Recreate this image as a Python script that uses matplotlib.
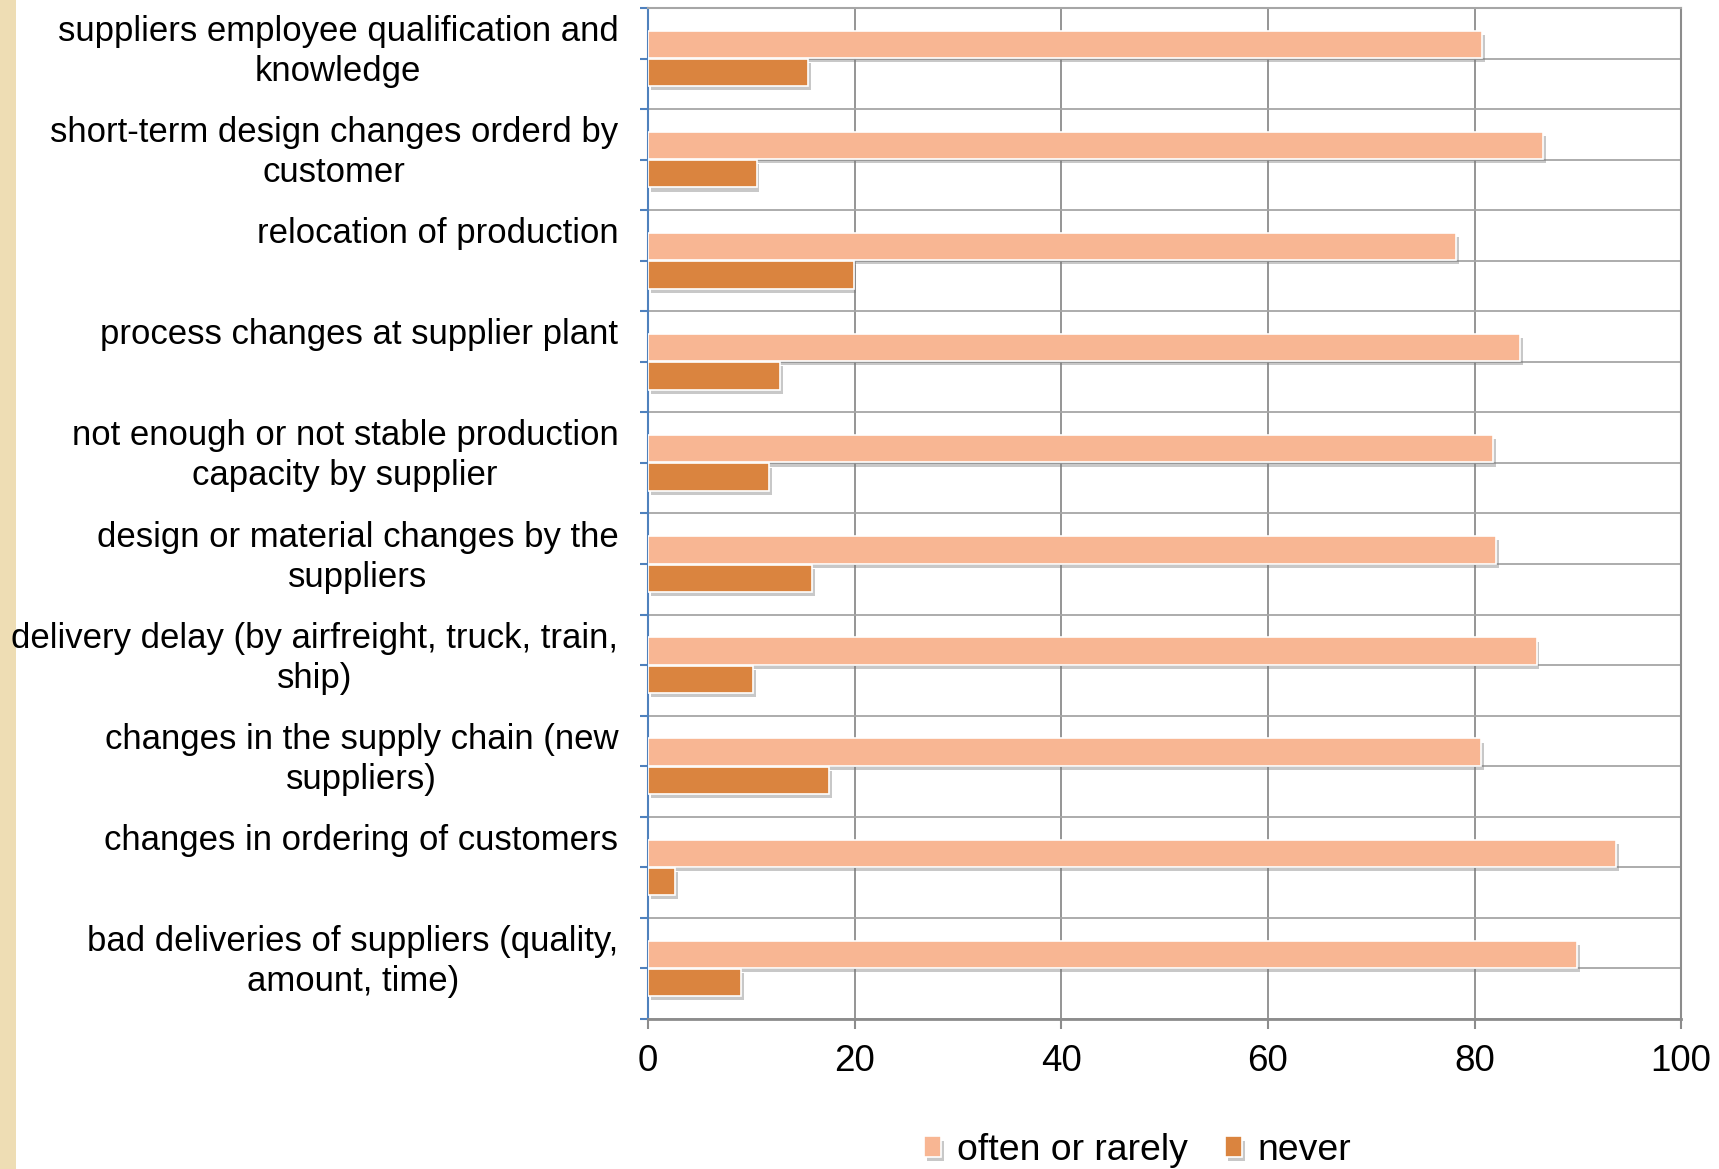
import numpy as np
import matplotlib.pyplot as plt
import matplotlib.patheffects as pe
from matplotlib.patches import Rectangle

plt.rcParams['font.family'] = ['Liberation Sans', 'DejaVu Sans']

# data (top to bottom)
categories = [
    "suppliers employee qualification and\nknowledge",
    "short-term design changes orderd by\ncustomer",
    "relocation of production",
    "process changes at supplier plant",
    "not enough or not stable production\ncapacity by supplier",
    "design or material changes by the\nsuppliers",
    "delivery delay (by airfreight, truck, train,\nship)",
    "changes in the supply chain (new\nsuppliers)",
    "changes in ordering of customers",
    "bad deliveries of suppliers (quality,\namount, time)",
]
often_or_rarely = [80.7, 86.6, 78.2, 84.4, 81.8, 82.1, 86.0, 80.6, 93.7, 89.9]
never = [15.5, 10.5, 19.9, 12.8, 11.7, 15.9, 10.2, 17.5, 2.6, 9.0]
xticks = [0, 20, 40, 60, 80, 100]

light = '#F8B693'
dark = '#DA843F'
grid_c = '#A6A6A6'

fig = plt.figure(figsize=(17.19, 11.69), dpi=100)
ax = fig.add_axes([0.377, 0.1283, 0.601, 0.8649])

# decorative beige strip on the left edge
fig.patches.append(Rectangle((0, 0), 16 / 1719, 1, transform=fig.transFigure,
                             facecolor='#EEDDB4', edgecolor='none', zorder=-1))

y = np.arange(len(categories))
h = 0.27
shadow = [pe.SimplePatchShadow(offset=(2, -3), shadow_rgbFace='#777777', alpha=0.4), pe.Normal()]
b1 = ax.barh(y - 0.14, often_or_rarely, height=h, color=light, edgecolor='white',
             linewidth=1.2, label='often or rarely', zorder=3)
b2 = ax.barh(y + 0.14, never, height=h, color=dark, edgecolor='white',
             linewidth=1.2, label='never', zorder=3)
for bar in list(b1) + list(b2):
    bar.set_path_effects(shadow)

ax.set_xlim(0, 100)
ax.set_ylim(len(categories) - 0.5, -0.5)

# labels sit near the top of each band; tick marks come from the minor ticks
ax.set_yticks(y - 0.43)
ax.set_yticklabels(categories, fontsize=25, linespacing=1.27)
for lbl in ax.get_yticklabels():
    lbl.set_va('top')
    lbl.set_multialignment('center')
ax.set_yticks(np.arange(-0.5, len(categories), 0.5), minor=True)
ax.tick_params(axis='y', which='major', length=0, pad=21.4)
ax.tick_params(axis='y', which='minor', direction='out', length=6, width=1.5,
               color='#4F81BD')

ax.set_xticks(xticks)
ax.set_xticklabels([str(v) for v in xticks], fontsize=26.5)
ax.tick_params(axis='x', direction='out', length=7, width=1.5, color='#8C8C8C', pad=11)

ax.grid(True, axis='x', color='#8C8C8C', linewidth=1.3, zorder=0)
ax.grid(True, axis='y', which='minor', color=grid_c, linewidth=1.3, zorder=0)
ax.set_axisbelow(True)

ax.spines['left'].set_color('#4F81BD')
ax.spines['left'].set_linewidth(1.5)
ax.spines['bottom'].set_color('#8C8C8C')
ax.spines['bottom'].set_linewidth(2)
ax.spines['right'].set_color('#8C8C8C')
ax.spines['right'].set_linewidth(1.5)
ax.spines['top'].set_color(grid_c)
ax.spines['top'].set_linewidth(1.5)

fig.legend(handles=[b1, b2], labels=['often or rarely', 'never'], loc='center',
           bbox_to_anchor=(0.6618, 0.016), ncol=2, frameon=False, fontsize=26.9,
           handlelength=0.45, handleheight=0.45, handletextpad=0.42, columnspacing=1.0)

fig.savefig('out.png', dpi=100)
